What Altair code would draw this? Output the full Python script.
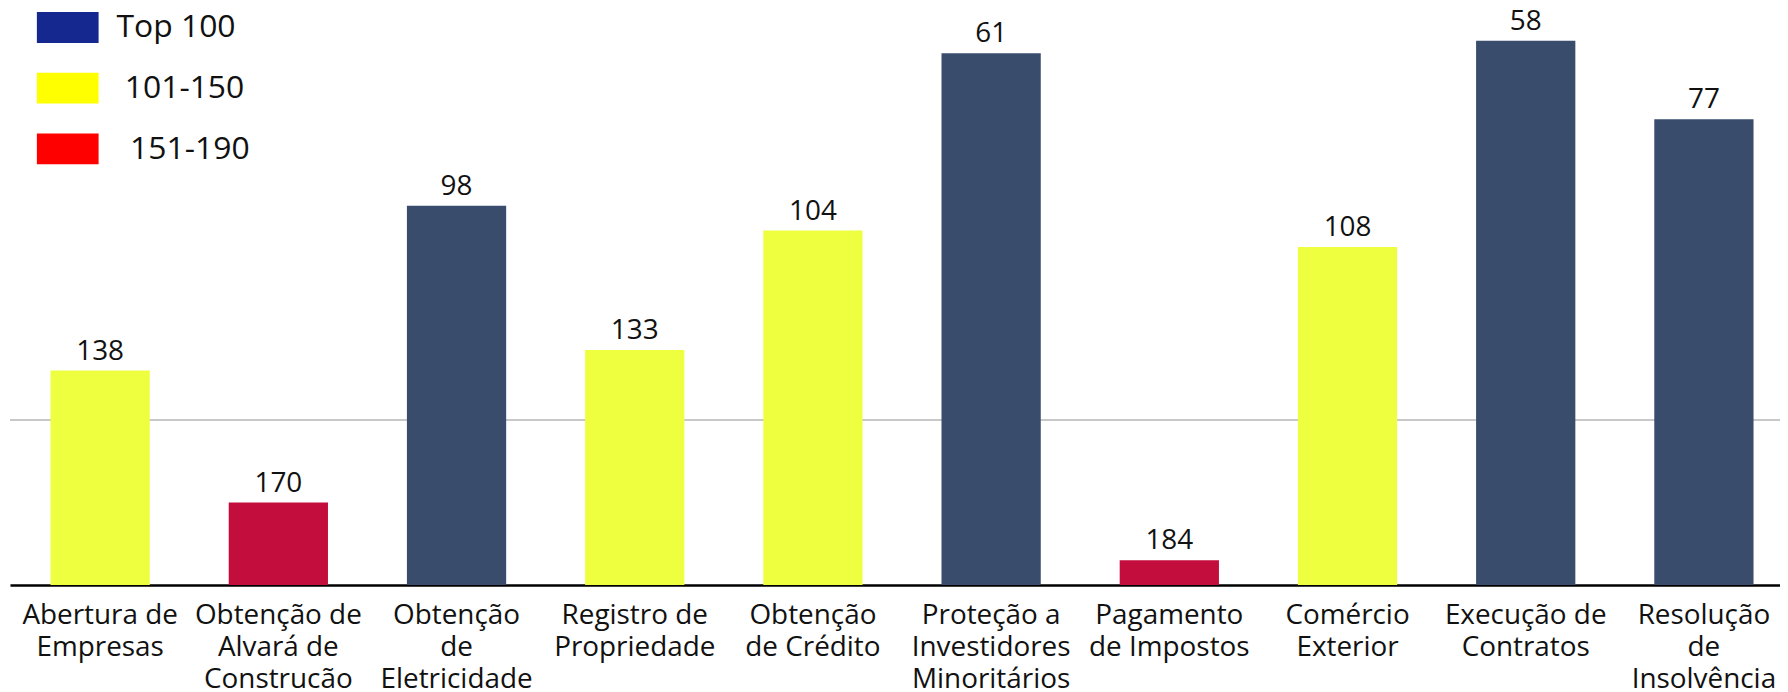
import altair as alt
import pandas as pd

categories = [
    "Abertura de\nEmpresas",
    "Obtenção de\nAlvará de\nConstrução",
    "Obtenção\nde\nEletricidade",
    "Registro de\nPropriedade",
    "Obtenção\nde Crédito",
    "Proteção a\nInvestidores\nMinoritários",
    "Pagamento\nde Impostos",
    "Comércio\nExterior",
    "Execução de\nContratos",
    "Resolução\nde\nInsolvência",
]
ranks = [138, 170, 98, 133, 104, 61, 184, 108, 58, 77]
groups = ["101-150", "151-190", "Top 100", "101-150", "101-150",
          "Top 100", "151-190", "101-150", "Top 100", "Top 100"]
group_order = ["Top 100", "101-150", "151-190"]
bar_colors = ["#394c6c", "#edff3e", "#c30d3c"]
legend_colors = ["#14288f", "#ffff00", "#ff0000"]
threshold = [150]

FONT = "Open Sans"

df = pd.DataFrame({"cat": categories, "rank": ranks, "group": groups})
leg = pd.DataFrame({"group": group_order})
thr = pd.DataFrame({"v": threshold})

yscale = alt.Scale(domain=[50.4, 190], reverse=True, nice=False, zero=False)
xenc = alt.X("cat:N", sort=categories,
             scale=alt.Scale(paddingInner=0.443, paddingOuter=0.188, align=0.605, round=False),
             axis=alt.Axis(title=None, labelAngle=0, labelFontSize=28, labelFont=FONT,
                           labelColor="#111111", labelLimit=0, ticks=False,
                           labelPadding=17, labelLineHeight=32,
                           labelExpr="split(datum.label, '\\n')",
                           domainColor="#000000", domainWidth=2.5, grid=False))

rule = alt.Chart(thr).mark_rule(color="#c8c8c8", strokeWidth=2).encode(
    y=alt.Y("v:Q", scale=yscale, axis=None)
)

bars = alt.Chart(df).mark_bar().encode(
    x=xenc,
    y=alt.Y("rank:Q", scale=yscale, axis=None),
    y2=alt.datum(190),
    color=alt.Color("group:N", scale=alt.Scale(domain=group_order, range=bar_colors), legend=None),
)

labels = alt.Chart(df).mark_text(baseline="alphabetic", dy=-11, fontSize=28, font=FONT,
                                 color="#111111").encode(
    x=alt.X("cat:N", sort=categories),
    y=alt.Y("rank:Q", scale=yscale, axis=None),
    text=alt.Text("rank:Q"),
)

legend_label_expr = (
    "datum.value == '101-150' ? '\u200b\u00a0101-150' : "
    "datum.value == '151-190' ? '\u200b\u00a0\u2006151-190' : datum.label"
)

legend_layer = alt.Chart(leg).mark_square(opacity=0).encode(
    color=alt.Color("group:N", scale=alt.Scale(domain=group_order, range=legend_colors),
                    legend=alt.Legend(title=None, orient="none", legendX=27, legendY=-13,
                                      padding=0, rowPadding=14,
                                      symbolType="M-1,-0.5H1V0.5H-1Z", symbolSize=3844,
                                      symbolStrokeWidth=0, symbolOpacity=1,
                                      labelFontSize=32, labelFont=FONT, labelColor="#111111",
                                      labelOffset=18, labelExpr=legend_label_expr)),
)

chart = alt.layer(rule, bars, labels, legend_layer).resolve_scale(color="independent").properties(
    width=1778, height=578,
    padding={"left": 2, "right": 0, "top": 0, "bottom": 102},
    autosize=alt.AutoSizeParams(type="none"),
    background="white",
).configure_view(strokeWidth=0)

chart.save("out.html", embed_options={"renderer": "svg", "actions": False})
